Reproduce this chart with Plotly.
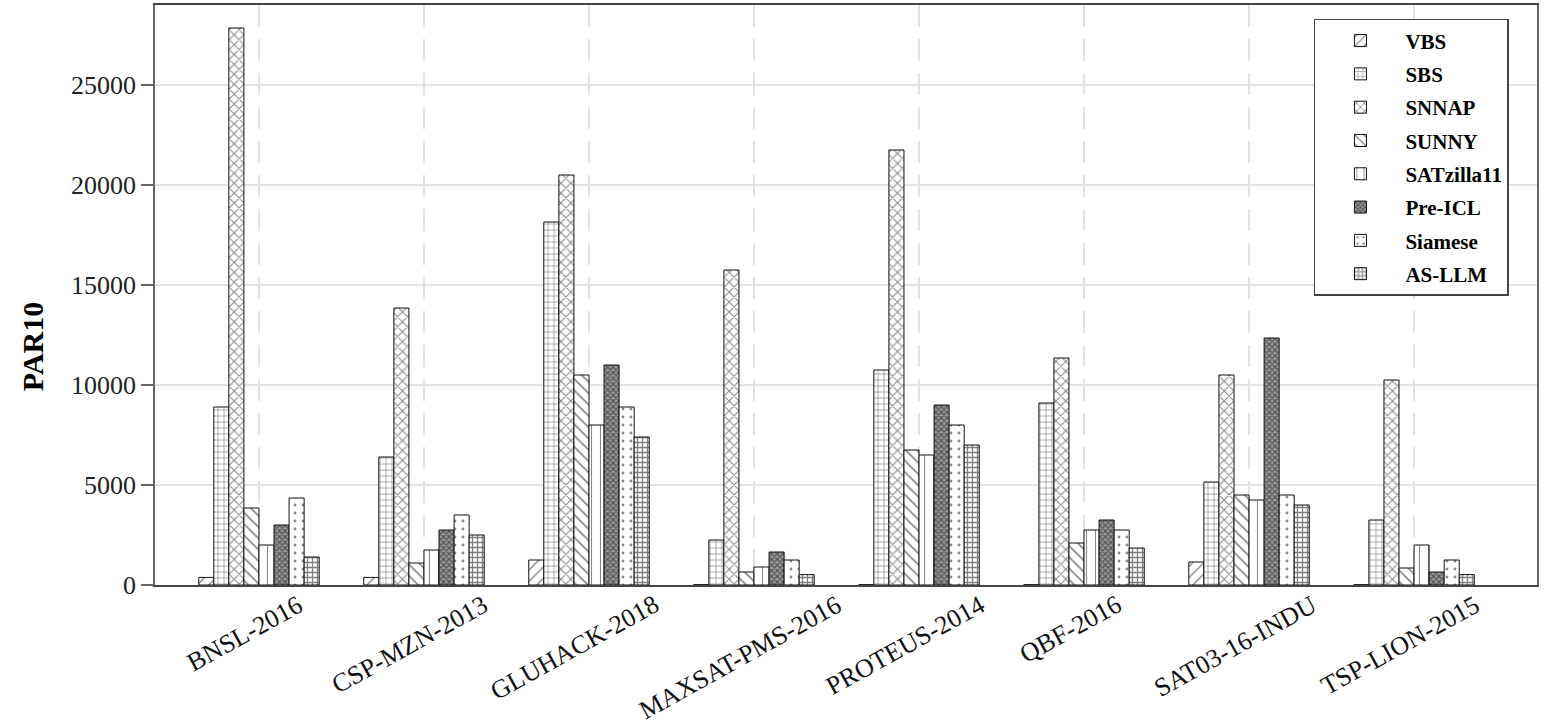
import plotly.graph_objects as go

categories = ["BNSL-2016", "CSP-MZN-2013", "GLUHACK-2018", "MAXSAT-PMS-2016",
              "PROTEUS-2014", "QBF-2016", "SAT03-16-INDU", "TSP-LION-2015"]

vbs       = [380, 380, 1250, 15, 15, 15, 1150, 15]
sbs       = [8900, 6400, 18150, 2250, 10750, 9100, 5150, 3250]
snnap     = [27850, 13850, 20500, 15750, 21750, 11350, 10500, 10250]
sunny     = [3850, 1100, 10500, 650, 6750, 2100, 4500, 850]
satzilla  = [2000, 1750, 8000, 900, 6500, 2750, 4250, 2000]
pre_icl   = [3000, 2750, 11000, 1650, 9000, 3250, 12350, 650]
siamese   = [4350, 3500, 8900, 1250, 8000, 2750, 4500, 1250]
as_llm    = [1400, 2500, 7400, 520, 7000, 1850, 4000, 520]

series_names = ["VBS", "SBS", "SNNAP", "SUNNY", "SATzilla11", "Pre-ICL", "Siamese", "AS-LLM"]
series_values = [vbs, sbs, snnap, sunny, satzilla, pre_icl, siamese, as_llm]

patterns = [
    dict(shape="/", size=8, solidity=0.18, fgcolor="#111", bgcolor="white"),
    dict(shape="+", size=6, solidity=0.2, fgcolor="#000", bgcolor="white"),
    dict(shape="x", size=7, solidity=0.28, fgcolor="#111", bgcolor="white"),
    dict(shape="\\", size=8, solidity=0.22, fgcolor="#111", bgcolor="white"),
    dict(shape="|", size=9, solidity=0.12, fgcolor="#111", bgcolor="white"),
    dict(shape="x", size=4, solidity=0.55, fgcolor="#111", bgcolor="#9a9a9a"),
    dict(shape=".", size=8, solidity=0.1, fgcolor="#111", bgcolor="white"),
    dict(shape="+", size=5, solidity=0.45, fgcolor="#000", bgcolor="white"),
]

SERIF = "Liberation Serif"

fig = go.Figure()
for name, vals, pat in zip(series_names, series_values, patterns):
    fig.add_trace(go.Bar(
        name=name, x=categories, y=vals, legendgroup=name,
        marker=dict(color="white", line=dict(color="#111", width=1), pattern=pat),
    ))

annotations = []
for c in categories:
    annotations.append(dict(
        x=c, xref="x", y=0, yref="paper", yanchor="top", xanchor="center",
        xshift=-14, yshift=-2, text=c, textangle=-29, showarrow=False,
        font=dict(family=SERIF, size=26, color="#111"),
    ))
annotations.append(dict(
    x=0, xref="paper", xshift=-123, y=0.41, yref="paper",
    xanchor="center", yanchor="middle", text="<b>PAR10</b>", textangle=-90,
    showarrow=False, font=dict(family=SERIF, size=30, color="#000"),
))

fig.update_layout(
    width=1544, height=725,
    margin=dict(l=155, r=7, t=5, b=140),
    paper_bgcolor="white", plot_bgcolor="white",
    barmode="group", bargap=0.27, bargroupgap=0,
    font=dict(family=SERIF, color="#222"),
    legend=dict(
        x=0.8386, y=0.976, xanchor="left", yanchor="top",
        bgcolor="white", bordercolor="#444", borderwidth=1.5,
        font=dict(family=SERIF, size=21, color="#000", weight="bold"),
        itemwidth=80, tracegroupgap=3,
    ),
    annotations=annotations,
    xaxis=dict(
        range=[-0.63, 7.745], showticklabels=False, ticks="", automargin=False,
        showgrid=True, gridcolor="#e2e2e2", gridwidth=1.5, griddash="22px,12px",
        showline=True, linecolor="#444", linewidth=1.5, mirror=True,
    ),
    yaxis=dict(
        range=[0, 29000], dtick=5000, tick0=0, tickformat="d", automargin=False,
        showgrid=True, gridcolor="#e2e2e2", gridwidth=1.5,
        ticks="outside", ticklen=12, tickwidth=1.5, tickcolor="#666",
        tickfont=dict(family=SERIF, size=26, color="#222"),
        showline=True, linecolor="#666", linewidth=1.5, mirror=True,
        zeroline=False,
    ),
)

fig.write_html("out.html", config={"displayModeBar": False},
               post_script="document.body.style.margin='0';document.body.style.overflow='hidden';")
